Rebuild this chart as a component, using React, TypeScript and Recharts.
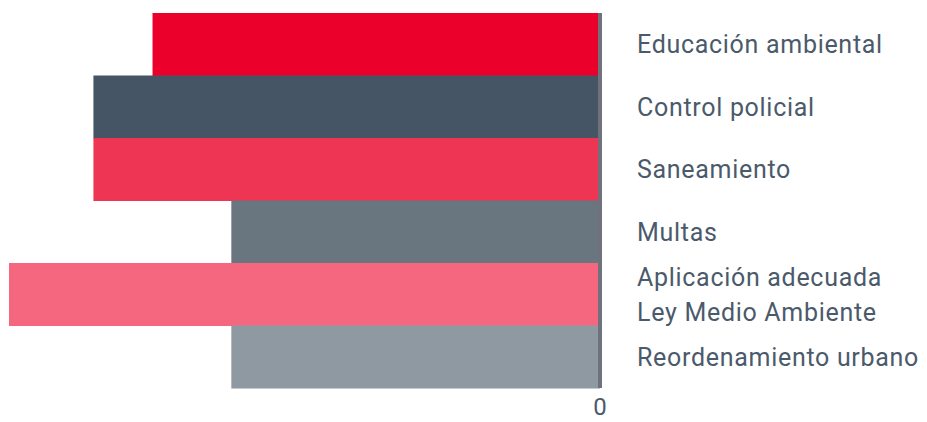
import React from 'react';
import { BarChart, Bar, XAxis, YAxis, Cell } from 'recharts';

const categories = [
  'Educación ambiental',
  'Control policial',
  'Saneamiento',
  'Multas',
  'Aplicación adecuada\nLey Medio Ambiente',
  'Reordenamiento urbano',
];
const values = [15.9, 18, 18, 13.1, 21, 13.1];
const colors = ['#ea002a', '#455565', '#ef3554', '#69767f', '#f4677e', '#8f99a2'];

const data = categories.map((name, i) => ({ name, value: values[i] }));

const textColor = '#4b5a6b';

const CategoryTick = (props: any) => {
  const { x, y, payload } = props;
  const lines = String(payload.value).split('\n');
  const lineH = 35;
  const start = -((lines.length - 1) * lineH) / 2;
  return (
    <text
      x={x + 29}
      y={y}
      fill={textColor}
      fontSize={25}
      letterSpacing={0.7}
      fontFamily="Roboto, sans-serif"
      textAnchor="start"
    >
      {lines.map((l, i) => (
        <tspan key={i} x={x + 29} y={y + start + i * lineH} dy="0.36em">
          {l}
        </tspan>
      ))}
    </text>
  );
};

export default function App() {
  return (
    <BarChart
      width={919}
      height={414}
      data={data}
      layout="vertical"
      barCategoryGap={0}
      margin={{ top: 5, right: 0, bottom: 0, left: 1 }}
    >
      <XAxis
        type="number"
        reversed
        domain={[0, 21]}
        ticks={[0]}
        axisLine={false}
        tickLine={false}
        height={34}
        tick={{ fill: textColor, fontSize: 24, fontFamily: 'Roboto, sans-serif', dy: 2 }}
      />
      <YAxis
        type="category"
        dataKey="name"
        orientation="right"
        width={327}
        axisLine={{ stroke: '#6f727b', strokeWidth: 4 }}
        tickLine={false}
        tick={<CategoryTick />}
      />
      <Bar dataKey="value" isAnimationActive={false}>
        {data.map((d, i) => (
          <Cell key={d.name} fill={colors[i]} />
        ))}
      </Bar>
    </BarChart>
  );
}
